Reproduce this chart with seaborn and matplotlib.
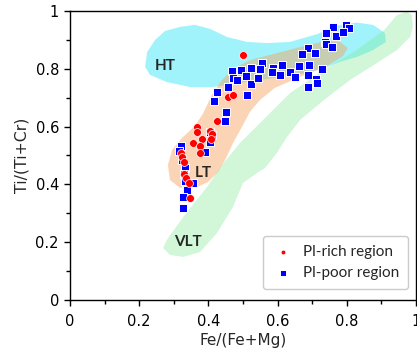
import matplotlib
matplotlib.use("Agg")
import matplotlib.pyplot as plt
from matplotlib.patches import Polygon
from matplotlib.ticker import MultipleLocator, FuncFormatter
import seaborn as sns
import pandas as pd

# ---------------- data ----------------
rich_x = [0.501, 0.458, 0.470, 0.424, 0.368, 0.405, 0.366, 0.410, 0.381, 0.408,
          0.355, 0.376, 0.376, 0.320, 0.323, 0.329, 0.329, 0.335, 0.345, 0.347]
rich_y = [0.848, 0.704, 0.708, 0.619, 0.600, 0.586, 0.582, 0.574, 0.556, 0.556,
          0.542, 0.533, 0.508, 0.510, 0.496, 0.479, 0.435, 0.421, 0.406, 0.354]

poor_x = [0.451, 0.448, 0.405, 0.410, 0.405, 0.390, 0.320, 0.316, 0.324, 0.332,
          0.329, 0.355, 0.332, 0.335, 0.339, 0.327, 0.327,
          0.761, 0.798, 0.807, 0.741, 0.769, 0.788, 0.737, 0.740, 0.756, 0.689,
          0.670, 0.708, 0.555, 0.612, 0.662, 0.691, 0.727, 0.467, 0.494, 0.523,
          0.588, 0.583, 0.550, 0.471, 0.483, 0.510, 0.523, 0.544, 0.608, 0.635,
          0.650, 0.689, 0.712, 0.714, 0.689, 0.458, 0.424, 0.416, 0.512]
poor_y = [0.652, 0.619, 0.582, 0.571, 0.548, 0.513, 0.533, 0.516, 0.484, 0.456,
          0.436, 0.406, 0.412, 0.384, 0.381, 0.355, 0.318,
          0.946, 0.951, 0.940, 0.924, 0.913, 0.926, 0.894, 0.886, 0.875, 0.871,
          0.851, 0.856, 0.821, 0.813, 0.808, 0.813, 0.800, 0.793, 0.796, 0.804,
          0.802, 0.788, 0.798, 0.768, 0.761, 0.774, 0.747, 0.769, 0.779, 0.789,
          0.773, 0.779, 0.765, 0.751, 0.737, 0.736, 0.721, 0.689, 0.709]

# field outlines (Fe/(Fe+Mg), Ti/(Ti+Cr))
ht_x = [0.217, 0.223, 0.246, 0.275, 0.318, 0.361, 0.405, 0.454, 0.512, 0.569,
        0.636, 0.714, 0.780, 0.829, 0.876, 0.910, 0.913, 0.876, 0.829, 0.780,
        0.743, 0.685, 0.587, 0.491, 0.413, 0.347, 0.280, 0.231]
ht_y = [0.807, 0.858, 0.900, 0.931, 0.945, 0.952, 0.938, 0.910, 0.893, 0.889,
        0.893, 0.920, 0.952, 0.960, 0.952, 0.924, 0.893, 0.865, 0.841, 0.824,
        0.806, 0.785, 0.768, 0.751, 0.737, 0.737, 0.754, 0.779]

lt_x = [0.318, 0.289, 0.283, 0.295, 0.324, 0.361, 0.384, 0.410, 0.439, 0.471,
        0.520, 0.587, 0.665, 0.737, 0.780, 0.803, 0.789, 0.743, 0.665, 0.592,
        0.549, 0.520, 0.497, 0.471, 0.451, 0.428, 0.399, 0.361]
lt_y = [0.388, 0.415, 0.467, 0.519, 0.561, 0.602, 0.644, 0.709, 0.761, 0.799,
        0.830, 0.851, 0.875, 0.896, 0.893, 0.872, 0.844, 0.810, 0.772, 0.734,
        0.692, 0.651, 0.599, 0.543, 0.491, 0.443, 0.408, 0.388]

vlt_x = [0.289, 0.327, 0.376, 0.425, 0.471, 0.500, 0.540, 0.564, 0.598, 0.627,
         0.665, 0.734, 0.809, 0.887, 0.945, 0.983, 0.991, 0.988, 0.974, 0.945,
         0.908, 0.829, 0.734, 0.636, 0.564, 0.491, 0.439, 0.396, 0.327, 0.280, 0.269]
vlt_y = [0.156, 0.149, 0.166, 0.232, 0.322, 0.405, 0.439, 0.457, 0.509, 0.564,
         0.623, 0.692, 0.761, 0.820, 0.865, 0.910, 0.945, 0.986, 0.998, 0.986,
         0.934, 0.865, 0.796, 0.716, 0.630, 0.543, 0.467, 0.391, 0.287, 0.208, 0.180]

field_names = ["HT", "LT", "VLT"]
field_label_x = [0.275, 0.384, 0.341]
field_label_y = [0.810, 0.440, 0.200]

x_ticks = [0, 0.2, 0.4, 0.6, 0.8, 1]
y_ticks = [0, 0.2, 0.4, 0.6, 0.8, 1]

# ---------------- plot ----------------
sns.set_style("white")
plt.rcParams["font.family"] = ["DejaVu Sans"]

fig = plt.figure(figsize=(4.17, 3.53), dpi=100)
ax = fig.add_axes([70 / 417, 53 / 353, 346 / 417, 289 / 353])

fields = [
    (ht_x, ht_y, "#2ee6f5", 0.45),
    (lt_x, lt_y, "#f5a05a", 0.45),
    (vlt_x, vlt_y, "#7de890", 0.35),
]
for fx, fy, col, a in fields:
    ax.add_patch(Polygon(list(zip(fx, fy)), closed=True, facecolor=col,
                         edgecolor="none", alpha=a, zorder=1))

for name, lx, ly in zip(field_names, field_label_x, field_label_y):
    ax.text(lx, ly, name, fontsize=11, fontweight="bold", ha="center",
            va="center", zorder=2, family=["Lato", "DejaVu Sans"])

poor = pd.DataFrame({"x": poor_x, "y": poor_y})
rich = pd.DataFrame({"x": rich_x, "y": rich_y})

sns.scatterplot(data=poor, x="x", y="y", ax=ax, marker="s", color="#0000ff",
                s=38, edgecolor="white", linewidth=0.7, zorder=3,
                label="Pl-poor region")
sns.scatterplot(data=rich, x="x", y="y", ax=ax, marker="o", color="#ff0000",
                s=32, edgecolor="white", linewidth=0.5, zorder=4,
                label="Pl-rich region")

ax.set_xlim(0, 1)
ax.set_ylim(0, 1)
ax.set_xticks(x_ticks)
ax.set_yticks(y_ticks)
ax.xaxis.set_minor_locator(MultipleLocator(0.1))
ax.yaxis.set_minor_locator(MultipleLocator(0.1))
fmt = FuncFormatter(lambda v, p: f"{v:g}")
ax.xaxis.set_major_formatter(fmt)
ax.yaxis.set_major_formatter(fmt)
ax.tick_params(which="major", direction="out", length=4, width=1,
               labelsize=10.5, colors="black", pad=4)
ax.tick_params(which="minor", direction="out", length=3, width=1,
               colors="black")
ax.tick_params(axis="x", which="both", bottom=True, top=False)
ax.tick_params(axis="y", which="both", left=True, right=False)
ax.tick_params(axis="x", which="major", pad=6)
for sp in ax.spines.values():
    sp.set_visible(True)
    sp.set_color("black")
    sp.set_linewidth(1)

ax.set_xlabel("Fe/(Fe+Mg)", fontsize=11, labelpad=3)
ax.set_ylabel("Ti/(Ti+Cr)", fontsize=11.3, labelpad=4)

handles, labels = ax.get_legend_handles_labels()
order = [labels.index("Pl-rich region"), labels.index("Pl-poor region")]
leg = ax.legend([handles[i] for i in order], [labels[i] for i in order],
                loc="lower right", bbox_to_anchor=(0.977, 0.038),
                prop={"family": ["Lato", "DejaVu Sans"], "size": 11},
                frameon=True, fancybox=True, edgecolor="#bfbfbf",
                markerscale=0.6, handlelength=1.4, handletextpad=0.6,
                borderpad=0.6, labelspacing=0.45, borderaxespad=0)
leg.get_frame().set_linewidth(1)

fig.savefig("out.png", dpi=100)
